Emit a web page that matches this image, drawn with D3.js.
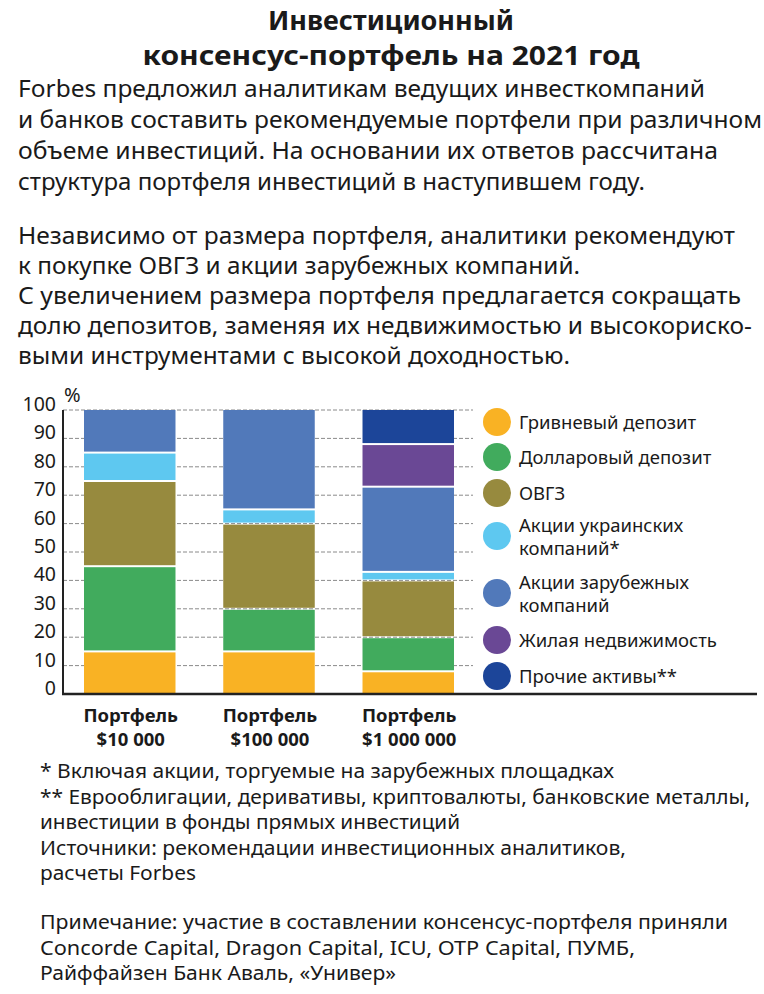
<!DOCTYPE html>
<html>
<head>
<meta charset="utf-8">
<script src="https://cdn.jsdelivr.net/npm/d3@7"></script>
<style>
  body { margin: 0; background: #fff; }
  svg text { font-family: "Noto Sans", "DejaVu Sans", sans-serif; fill: #1a1a1a; }
</style>
</head>
<body>
<svg id="svg"></svg>
<script>
// chart data
const portfolios = ["p1", "p2", "p3"];
const portfolioTop = ["Портфель", "Портфель", "Портфель"];
const portfolioBottom = ["$10 000", "$100 000", "$1 000 000"];

const series = ["Гривневый депозит", "Долларовый депозит", "ОВГЗ", "Акции украинских компаний*",
  "Акции зарубежных компаний", "Жилая недвижимость", "Прочие активы**"];
const colors = ["#f9b224", "#41ab5d", "#978a3e", "#5ec8f0", "#5179ba", "#6a4895", "#1c4599"];

// values per series, one number per portfolio (%)
const uahDeposit = [15, 15, 8];
const usdDeposit = [30, 15, 12];
const ovgz = [30, 30, 20];
const uaStocks = [10, 5, 3];
const foreignStocks = [15, 35, 30];
const realEstate = [0, 0, 15];
const otherAssets = [0, 0, 12];

const yTicks = [0, 10, 20, 30, 40, 50, 60, 70, 80, 90, 100];

const legendLines = [["Гривневый депозит"], ["Долларовый депозит"], ["ОВГЗ"],
  ["Акции украинских", "компаний*"], ["Акции зарубежных", "компаний"],
  ["Жилая недвижимость"], ["Прочие активы**"]];

const titleLines = ["Инвестиционный", "консенсус-портфель на 2021 год"];
const intro1 = [
  "Forbes предложил аналитикам ведущих инвесткомпаний",
  "и банков составить рекомендуемые портфели при различном",
  "объеме инвестиций. На основании их ответов рассчитана",
  "структура портфеля инвестиций в наступившем году."
];
const intro2 = [
  "Независимо от размера портфеля, аналитики рекомендуют",
  "к покупке ОВГЗ и акции зарубежных компаний.",
  "С увеличением размера портфеля предлагается сокращать",
  "долю депозитов, заменяя их недвижимостью и высокориско-",
  "выми инструментами с высокой доходностью."
];
const notes = [
  "* Включая акции, торгуемые на зарубежных площадках",
  "** Еврооблигации, деривативы, криптовалюты, банковские металлы,",
  "инвестиции в фонды прямых инвестиций",
  "Источники: рекомендации инвестиционных аналитиков,",
  "расчеты Forbes",
  "",
  "Примечание: участие в составлении консенсус-портфеля приняли",
  "Concorde Capital, Dragon Capital, ICU, OTP Capital, ПУМБ,",
  "Райффайзен Банк Аваль, «Универ»"
];

const w = 764;
const h = 994;

const svg = d3.select("#svg").attr("width", w).attr("height", h);

// title
svg.selectAll(".title")
  .data(titleLines)
  .enter()
  .append("text")
  .attr("class", "title")
  .attr("x", 391)
  .attr("y", (d, i) => 30 + i * 35)
  .attr("text-anchor", "middle")
  .attr("font-size", 27)
  .attr("font-weight", "bold")
  .text(d => d);
svg.selectAll(".title").filter((d, i) => i == 1).attr("textLength", 497).attr("lengthAdjust", "spacingAndGlyphs");

// intro paragraphs
const intro1Widths = [687, 744, 700, 627];
svg.selectAll(".intro1")
  .data(intro1)
  .enter()
  .append("text")
  .attr("class", "intro1")
  .attr("x", 18)
  .attr("y", (d, i) => 97 + i * 31)
  .attr("font-size", 23)
  .attr("textLength", (d, i) => intro1Widths[i])
  .attr("lengthAdjust", "spacingAndGlyphs")
  .text(d => d);

const intro2Widths = [717, 562, 723, 734, 552];
svg.selectAll(".intro2")
  .data(intro2)
  .enter()
  .append("text")
  .attr("class", "intro2")
  .attr("x", 18)
  .attr("y", (d, i) => 244 + i * 30)
  .attr("font-size", 23)
  .attr("textLength", (d, i) => intro2Widths[i])
  .attr("lengthAdjust", "spacingAndGlyphs")
  .text(d => d);

// chart
const x0 = 63, x1 = 473, yTop = 410, yBot = 694;

const y = d3.scaleLinear().domain([0, 100]).range([yBot, yTop]);
const x = d3.scaleBand().domain(portfolios).range([84, 454]).paddingInner(0.343).paddingOuter(0);

// dashed grid
svg.append("g")
  .selectAll("line")
  .data(yTicks.filter(t => t > 0))
  .enter()
  .append("line")
  .attr("x1", x0)
  .attr("x2", x1)
  .attr("y1", d => y(d))
  .attr("y2", d => y(d))
  .attr("stroke", "#8a8a8a")
  .attr("stroke-width", 1)
  .attr("stroke-dasharray", "4,2");

// stack
const table = portfolios.map((p, i) => ({
  key: p,
  s0: uahDeposit[i], s1: usdDeposit[i], s2: ovgz[i], s3: uaStocks[i],
  s4: foreignStocks[i], s5: realEstate[i], s6: otherAssets[i]
}));
const stack = d3.stack().keys(["s0", "s1", "s2", "s3", "s4", "s5", "s6"]);
const layers = stack(table);

svg.append("g")
  .selectAll("g")
  .data(layers)
  .enter()
  .append("g")
  .attr("fill", (d, i) => colors[i])
  .selectAll("rect")
  .data(d => d.filter(s => s[1] - s[0] > 0))
  .enter()
  .append("rect")
  .attr("x", d => x(d.data.key))
  .attr("width", x.bandwidth())
  .attr("y", d => y(d[1]) + (d[1] < 100 ? 1 : 0))
  .attr("height", d => y(d[0]) - y(d[1]) - (d[1] < 100 ? 1 : 0) - (d[0] > 0 ? 1 : 0));

// y axis
svg.append("line")
  .attr("x1", x0).attr("x2", x0)
  .attr("y1", yTop).attr("y2", yBot)
  .attr("stroke", "#222").attr("stroke-width", 2);
svg.append("line")
  .attr("x1", x0 - 1).attr("x2", 757)
  .attr("y1", yBot).attr("y2", yBot)
  .attr("stroke", "#222").attr("stroke-width", 2.5);

svg.append("g")
  .selectAll("text")
  .data(yTicks)
  .enter()
  .append("text")
  .attr("x", 56)
  .attr("y", d => y(d) + 1)
  .attr("text-anchor", "end")
  .attr("font-size", 19.5)
  .text(d => d);

svg.append("text")
  .attr("x", 64)
  .attr("y", 402)
  .attr("font-size", 20)
  .text("%");

// category labels
const cat = svg.append("g")
  .selectAll("g")
  .data(portfolios)
  .enter()
  .append("g");
cat.append("text")
  .attr("x", d => x(d) + x.bandwidth() / 2 + 1)
  .attr("y", 722)
  .attr("text-anchor", "middle")
  .attr("font-size", 18.5)
  .attr("font-weight", "bold")
  .text((d, i) => portfolioTop[i]);
cat.append("text")
  .attr("x", d => x(d) + x.bandwidth() / 2 + 1)
  .attr("y", 746)
  .attr("text-anchor", "middle")
  .attr("font-size", 18.5)
  .attr("font-weight", "bold")
  .text((d, i) => portfolioBottom[i]);

// legend
const legendY = [422, 457, 493, 536, 593, 640, 676];
const leg = svg.append("g")
  .selectAll("g")
  .data(series)
  .enter()
  .append("g");
leg.append("circle")
  .attr("cx", 497)
  .attr("cy", (d, i) => legendY[i])
  .attr("r", 14)
  .attr("fill", (d, i) => colors[i]);
leg.each(function (d, i) {
  const lines = legendLines[i];
  d3.select(this).selectAll("text")
    .data(lines)
    .enter()
    .append("text")
    .attr("x", 519)
    .attr("y", (l, j) => legendY[i] + 7 - (lines.length - 1) * 11.5 + j * 23)
    .attr("font-size", 18.5)
    .text(l => l);
});

// footnotes
const noteWidths = [574, 710, 420, 586, 156, 0, 688, 595, 356];
svg.selectAll(".note")
  .data(notes)
  .enter()
  .append("text")
  .attr("class", "note")
  .attr("x", 40)
  .attr("y", (d, i) => 778 + i * 25.5 + (i > 5 ? -2 : 0))
  .attr("font-size", 19)
  .attr("textLength", (d, i) => noteWidths[i] || null)
  .attr("lengthAdjust", "spacingAndGlyphs")
  .text(d => d);
</script>
</body>
</html>
